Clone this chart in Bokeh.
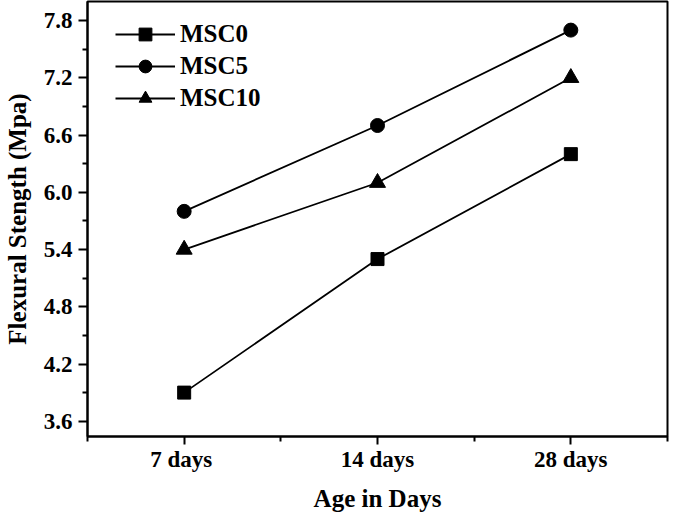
from bokeh.plotting import figure
from bokeh.models import Range1d, FixedTicker, Legend
from bokeh.embed import file_html
from bokeh.resources import INLINE

categories = ["7  days", "14 days", "28 days"]
msc0 = [3.9, 5.3, 6.4]
msc5 = [5.8, 6.7, 7.7]
msc10 = [5.4, 6.1, 7.2]
y_ticks = [3.6, 4.2, 4.8, 5.4, 6.0, 6.6, 7.2, 7.8]
y_minor = [3.9, 4.5, 5.1, 5.7, 6.3, 6.9, 7.5]

xs = list(range(len(categories)))
FONT = "Liberation Serif"

p = figure(width=669, height=514, output_backend="svg", toolbar_location=None,
           x_range=Range1d(-0.5, 2.5), y_range=Range1d(3.44, 8.0),
           min_border_left=76, min_border_right=2, min_border_top=1, min_border_bottom=74)
p.grid.visible = False
p.outline_line_color = "black"
p.outline_line_width = 2
p.background_fill_color = "white"
p.border_fill_color = "white"

r = []
for vals, marker, name, size in [(msc0, "square", "MSC0", 13),
                                 (msc5, "circle", "MSC5", 14),
                                 (msc10, "triangle", "MSC10", 16)]:
    l = p.line(xs, vals, line_color="black", line_width=1.8)
    s = p.scatter(xs, vals, marker=marker, size=size, fill_color="black", line_color="black")
    r.append((name, [l, s]))

legend = Legend(items=r, location=(28, 322))
legend.border_line_color = None
legend.background_fill_alpha = 0
legend.padding = 0
legend.margin = 0
legend.spacing = 0
legend.glyph_width = 60
legend.glyph_height = 32
legend.label_height = 32
legend.label_standoff = 5
legend.label_text_font = FONT
legend.label_text_font_style = "bold"
legend.label_text_font_size = "25px"
legend.label_text_color = "black"
p.add_layout(legend)

p.xaxis.ticker = FixedTicker(ticks=xs, minor_ticks=[-0.5, 0.5, 1.5, 2.5])
p.xaxis.major_label_overrides = {i: c for i, c in enumerate(categories)}
p.yaxis.ticker = FixedTicker(ticks=y_ticks, minor_ticks=y_minor)
p.yaxis.major_label_overrides = {t: f"{t:.1f}" for t in y_ticks}

for ax in (p.xaxis[0], p.yaxis[0]):
    ax.axis_line_width = 2
    ax.axis_line_color = "black"
    ax.major_tick_line_width = 2
    ax.minor_tick_line_width = 2
    ax.major_tick_line_color = "black"
    ax.minor_tick_line_color = "black"
    ax.major_tick_in = 0
    ax.major_tick_out = 9
    ax.minor_tick_in = 0
    ax.minor_tick_out = 5
    ax.major_label_text_font = FONT
    ax.major_label_text_font_style = "bold"
    ax.major_label_text_font_size = "23px"
    ax.major_label_text_color = "black"
    ax.axis_label_text_font = FONT
    ax.axis_label_text_font_style = "bold"
    ax.axis_label_text_font_size = "25px"
    ax.axis_label_text_color = "black"

p.xaxis.major_tick_out = 8
p.xaxis.axis_label = "Age in Days"
p.yaxis.axis_label = "Flexural Stength (Mpa)"
p.xaxis.major_label_standoff = 2
p.xaxis.axis_label_standoff = 10
p.yaxis.major_label_standoff = 6
p.yaxis.axis_label_standoff = 10

open("out.html", "w").write(file_html(p, INLINE))
